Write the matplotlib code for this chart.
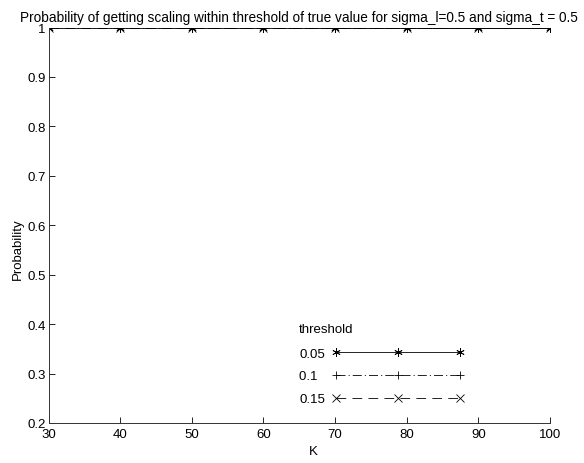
import numpy as np
import matplotlib
matplotlib.use("Agg")
import matplotlib.pyplot as plt

plt.rcParams['font.family'] = ['Liberation Sans', 'DejaVu Sans']
plt.rcParams['font.size'] = 9.5
plt.rcParams['lines.scale_dashes'] = False

# number of components K vs probability of recovering the scaling
K = [30, 40, 50, 60, 70, 80, 90, 100]
thresholds = ['0.05', '0.1  ', '0.15']
prob_005 = [1, 1, 1, 1, 1, 1, 1, 1]
prob_01 = [1, 1, 1, 1, 1, 1, 1, 1]
prob_015 = [1, 1, 1, 1, 1, 1, 1, 1]

fig = plt.figure(figsize=(5.84, 4.64), dpi=100)
ax = fig.add_axes([48.5/584, 40/464, 501.5/584, 395.5/464])

styles = [('-', (6, 2, 0)), ((0, (6.5, 2.2, 0.8, 2.2)), '+'), ((0, (7, 4.5)), 'x')]
for probs, thr, (ls, mk) in zip([prob_005, prob_01, prob_015], thresholds, styles):
    ax.plot(K, probs, color='k', linestyle=ls, marker=mk, markersize=6,
            linewidth=0.6, markeredgewidth=0.6, label=thr)

ax.set_xlim(30, 100)
ax.set_ylim(0.2, 1)
ax.set_xticks(K)
yt = np.round(np.arange(0.2, 1.01, 0.1), 1)
ax.set_yticks(yt)
ax.set_yticklabels(['%g' % v for v in yt])

for s in ['top', 'right']:
    ax.spines[s].set_visible(False)
for s in ['left', 'bottom']:
    ax.spines[s].set_linewidth(0.7)
    ax.spines[s].set_color('#333333')
ax.tick_params(direction='in', length=4, width=0.6, labelsize=9.5)
ax.tick_params(axis='x', pad=3.5)
ax.tick_params(axis='y', pad=2)
ax.set_xlabel('K')
ax.set_ylabel('Probability')
ax.xaxis.set_label_coords(0.529, -0.0556)
ax.yaxis.set_label_coords(-0.049, 0.4425)
ax.set_title('Probability of getting scaling within threshold of true value for sigma_l=0.5 and sigma_t = 0.5',
             fontsize=9.8, pad=5)

leg = ax.legend(title='threshold', loc='lower left', bbox_to_anchor=(0.5, 0.045),
                frameon=False, numpoints=3, handlelength=10.05, markerfirst=False,
                labelspacing=0.8, handletextpad=0.5, borderpad=0, borderaxespad=0,
                fontsize=9.5, title_fontsize=9.5, alignment='left')
# a bit more room under the legend title than between rows
leg._legend_box.sep = 9

fig.savefig('out.png', dpi=100)
